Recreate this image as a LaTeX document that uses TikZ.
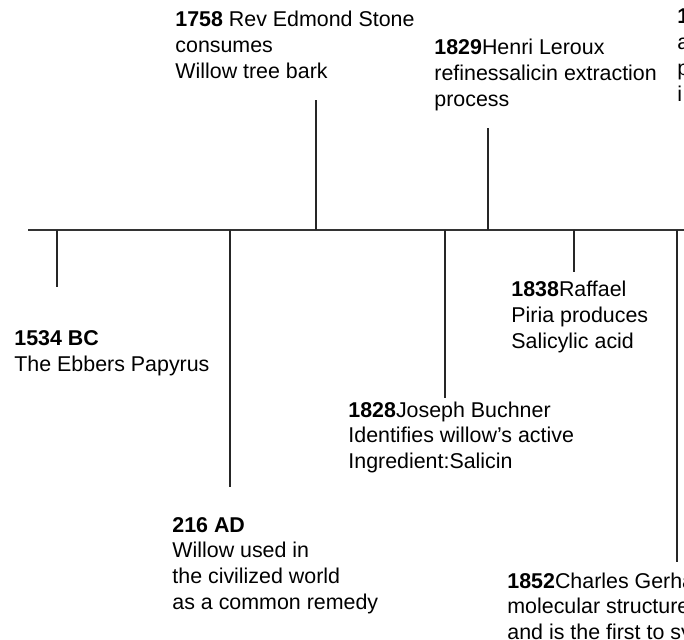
\documentclass[tikz,border=0pt]{standalone}
\usepackage{fontspec}
\setmainfont{Liberation Sans}
\tikzset{
  axis/.style={line width=1pt, black!80},
  tick/.style={line width=0.7pt, black!85},
  event/.style={anchor=base west, inner sep=0pt, align=left, font=\fontsize{10.7pt}{12.9pt}\selectfont},
}
\begin{document}
\begin{tikzpicture}[x=0.5pt, y=-0.5pt]
\useasboundingbox (0,0) rectangle (684,640);
\clip (0,0) rectangle (684,640);
\coordinate (start) at (28,230);
\coordinate (end) at (700,230);
\draw[axis] (start) -- (end);
\foreach \n/\x/\y in {bc1534/57/287, ad216/230/487, y1758/316/100, y1828/445/398, y1829/488/128, y1838/574/272, y1852/677/562}{
  \coordinate (on\n) at (\x,230);
  \coordinate (off\n) at (\x,\y);
  \draw[tick] (on\n) -- (off\n);
}
\node[event] (ebers) at (14,371.8) {\textbf{1534 BC}\\The Ebbers Papyrus};
\node[event] (willow) at (172,609.4) {\textbf{216 AD}\\Willow used in\\the civilized world\\as a common remedy};
\node[event] (stone) at (175,78.6) {\textbf{1758} Rev Edmond Stone\\consumes\\Willow tree bark};
\node[event] (buchner) at (348,468.6) {\textbf{1828}Joseph Buchner\\Identifies willow’s active\\Ingredient:Salicin};
\node[event] (leroux) at (434,106.6) {\textbf{1829}Henri Leroux\\refinessalicin extraction\\process};
\node[event] (piria) at (511,348.6) {\textbf{1838}Raffael\\Piria produces\\Salicylic acid};
\node[event] (gerhardt) at (507,639.6) {\textbf{1852}Charles Gerhardt\\molecular structure\\and is the first to synthesize};
\node[event] (later) at (677,101.4) {\textbf{1}\\a\\p\\i};
\end{tikzpicture}
\end{document}
